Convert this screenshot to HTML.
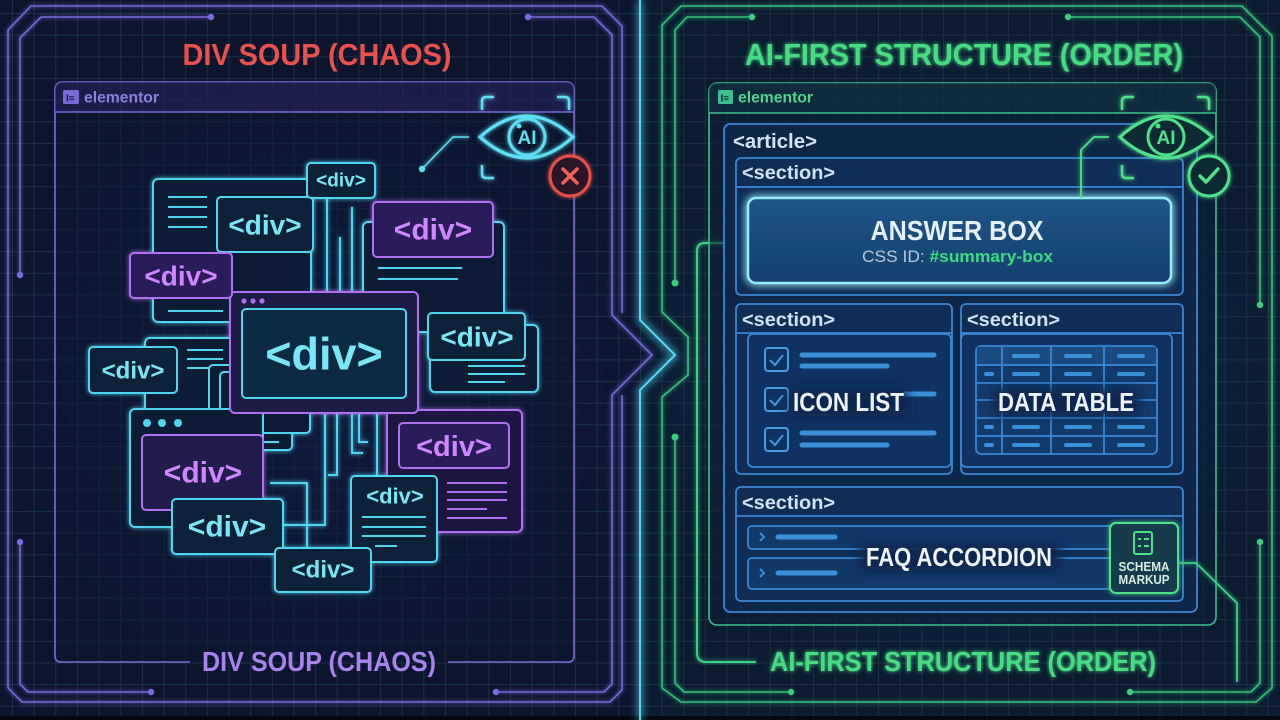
<!DOCTYPE html>
<html><head><meta charset="utf-8"><style>
html,body{margin:0;padding:0;background:#0a1424;}
svg{display:block;}
text{font-family:"Liberation Sans","DejaVu Sans",sans-serif;}
.c{font-family:"Liberation Sans Narrow","Liberation Sans",sans-serif;font-weight:bold;}
</style></head><body>
<svg width="1280" height="720" viewBox="0 0 1280 720" xmlns="http://www.w3.org/2000/svg">
<defs>
<pattern id="grid" x="12" y="13" width="21.65" height="21.65" patternUnits="userSpaceOnUse">
<path d="M0 0.5H21.65M0.5 0V21.65" stroke="#1b3044" stroke-width="1" fill="none"/>
</pattern>
<radialGradient id="lg" cx="0.5" cy="0.5" r="0.5"><stop offset="0" stop-color="#1a2a5a" stop-opacity="0.55"/><stop offset="1" stop-color="#1a2a5a" stop-opacity="0"/></radialGradient>
<radialGradient id="rg" cx="0.5" cy="0.5" r="0.5"><stop offset="0" stop-color="#12406a" stop-opacity="0.55"/><stop offset="1" stop-color="#12406a" stop-opacity="0"/></radialGradient>
<linearGradient id="ab" x1="0" y1="0" x2="0" y2="1"><stop offset="0" stop-color="#1d5688"/><stop offset="1" stop-color="#163f6c"/></linearGradient>
<filter id="g" x="-30%" y="-30%" width="160%" height="160%"><feGaussianBlur stdDeviation="2.2" result="b"/><feMerge><feMergeNode in="b"/><feMergeNode in="SourceGraphic"/></feMerge></filter>
<filter id="g2" x="-30%" y="-30%" width="160%" height="160%"><feGaussianBlur stdDeviation="4" result="b"/><feMerge><feMergeNode in="b"/><feMergeNode in="b"/><feMergeNode in="SourceGraphic"/></feMerge></filter>
<filter id="halo" x="-20%" y="-50%" width="140%" height="200%"><feGaussianBlur stdDeviation="5"/></filter>
</defs>

<!-- background -->
<rect width="1280" height="720" fill="#0b1628"/>
<rect x="0" y="0" width="640" height="720" fill="#0d1530" opacity="0.6"/>
<rect x="640" y="0" width="640" height="720" fill="#0b2036" opacity="0.6"/>
<ellipse cx="320" cy="380" rx="330" ry="300" fill="url(#lg)"/>
<ellipse cx="960" cy="360" rx="340" ry="330" fill="url(#rg)"/>
<rect width="1280" height="720" fill="url(#grid)"/>
<rect x="0" y="716" width="1280" height="4" fill="#05080f"/>

<!-- LEFT FRAME -->
<g fill="none" stroke="#7668d8" stroke-width="1.6" filter="url(#g)">
<path d="M8,688 L8,30 L31,6 L602,6 L622,26 L622,313"/>
<path d="M622,395 L622,690 L610,702 L22,702 L8,688"/>
<path d="M211,17 L41,17 L20,38 L20,275"/>
<path d="M20,542 L20,684 L28,692 L151,692"/>
<path d="M528,17 L594,17 L612,35 L612,315 L652,355 L612,395 L612,684 L604,692 L496,692"/>
</g>
<g fill="#7a6ce0"><circle cx="211" cy="17" r="3.2"/><circle cx="20" cy="275" r="3.2"/><circle cx="20" cy="542" r="3.2"/><circle cx="151" cy="692" r="3.2"/><circle cx="528" cy="17" r="3.2"/><circle cx="496" cy="692" r="3.2"/></g>

<!-- center cyan -->
<path d="M640,0 L640,320 L675,355 L640,390 L640,720" fill="none" stroke="#55d8f0" stroke-width="2" filter="url(#g2)"/>

<!-- RIGHT FRAME -->
<g fill="none" stroke="#34c07a" stroke-width="1.6" filter="url(#g)">
<path d="M662,688 L662,397 L688,375 L688,337 L662,312 L662,25 L681,6 L1242,6 L1272,36 L1272,688 L1256,702 L681,702 L662,688"/>
<path d="M752,17 L687,17 L675,30 L675,283"/>
<path d="M675,437 L675,683 L684,692 L791,692"/>
<path d="M1068,17 L1240,17 L1260,37 L1260,305"/>
<path d="M1260,542 L1260,683 L1251,692 L1130,692"/>
</g>
<g fill="#3ccf82"><circle cx="752" cy="17" r="3.2"/><circle cx="675" cy="283" r="3.5"/><circle cx="675" cy="437" r="3.5"/><circle cx="791" cy="692" r="3.2"/><circle cx="1068" cy="17" r="3.2"/><circle cx="1260" cy="305" r="3.2"/><circle cx="1260" cy="542" r="3.2"/><circle cx="1130" cy="692" r="3.2"/></g>

<!-- TITLES -->
<text class="c" x="317" y="65" font-size="31" fill="#e9524c" text-anchor="middle" textLength="269" lengthAdjust="spacingAndGlyphs">DIV SOUP (CHAOS)</text>
<text class="c" x="964" y="65" font-size="31" fill="#47dc82" text-anchor="middle" textLength="438" lengthAdjust="spacingAndGlyphs" filter="url(#g)">AI-FIRST STRUCTURE (ORDER)</text>

<!-- LEFT WINDOW -->
<path d="M190,662 L61,662 Q55,662 55,656 L55,90 Q55,82 63,82 L566,82 Q574,82 574,90 L574,656 Q574,662 568,662 L448,662" fill="#0c1630" fill-opacity="0.45" stroke="#7a6ad8" stroke-width="1.6"/>
<path d="M55,112 L55,90 Q55,82 63,82 L566,82 Q574,82 574,90 L574,112 Z" fill="#2a2560" fill-opacity="0.55"/>
<line x1="55" y1="112" x2="574" y2="112" stroke="#7a6ad8" stroke-width="1.6"/>
<rect x="63" y="90" width="16" height="14" rx="1.5" fill="#7a6ad8"/>
<text x="66" y="101.5" font-size="10" font-weight="bold" fill="#1c1a44">I≡</text>
<text x="84" y="102.5" font-size="15.5" font-weight="bold" fill="#8d80dc" textLength="75" lengthAdjust="spacingAndGlyphs">elementor</text>
<text class="c" x="319" y="671" font-size="28" fill="#a883ec" text-anchor="middle" textLength="234" lengthAdjust="spacingAndGlyphs">DIV SOUP (CHAOS)</text>

<!-- LEFT EYE -->
<g fill="none" stroke="#5fe0f2" stroke-width="2.5" filter="url(#g)">
<path d="M482,110 L482,101 Q482,97 486,97 L494,97"/>
<path d="M557,97 L565,97 Q569,97 569,101 L569,110"/>
<path d="M482,165 L482,174 Q482,178 486,178 L494,178"/>
<path d="M480,137 Q527,95 573,137 Q527,179 480,137 Z" stroke-width="3.2"/>
<circle cx="527" cy="137" r="18" stroke-width="3"/>
<path d="M469,137 L453,137 L422,169" stroke-width="1.6"/>
</g>
<circle cx="422" cy="169" r="3.2" fill="#5fe0f2"/>
<circle cx="519" cy="126" r="2.5" fill="#5fe0f2"/>
<text x="527" y="144" font-size="19" font-weight="bold" fill="#5fe0f2" text-anchor="middle">AI</text>
<g filter="url(#g)">
<circle cx="570" cy="176" r="20" fill="#2a1426" stroke="#e8504a" stroke-width="3"/>
<path d="M563,169 L577,183 M577,169 L563,183" stroke="#f0605a" stroke-width="3.5" stroke-linecap="round"/>
</g>

<!-- LEFT CLUSTER -->
<g filter="url(#g)" stroke-width="2">
<!-- connector lines back -->
<g fill="none" stroke="#4fd6ef">
<line x1="327" y1="198" x2="327" y2="292"/>
<line x1="340" y1="237" x2="340" y2="292"/>
<line x1="352" y1="207" x2="352" y2="292"/>
<line x1="278" y1="252" x2="278" y2="292"/>
<path d="M325,413 L325,525 L283,525"/>
<path d="M270,483 L307,483 L307,548"/>
<path d="M337,413 L337,475 L328,475"/>
<path d="M352,413 L352,453 L363,453"/>
<path d="M359,413 L359,442 L368,442"/>
<line x1="377" y1="413" x2="377" y2="476"/>
<line x1="457" y1="287" x2="457" y2="313"/>
</g>
<!-- panel A -->
<rect x="153" y="179" width="158" height="143" rx="5" fill="#0d1f36" stroke="#4fd6ef"/>
<g stroke="#4fd6ef"><line x1="168" y1="197" x2="207" y2="197"/><line x1="168" y1="207" x2="207" y2="207"/><line x1="168" y1="217" x2="207" y2="217"/><line x1="168" y1="227" x2="207" y2="227"/><line x1="168" y1="311" x2="223" y2="311"/></g>
<!-- panel B -->
<rect x="363" y="222" width="141" height="110" rx="5" fill="#0d1f36" stroke="#4fd6ef"/>
<g stroke="#4fd6ef"><line x1="378" y1="268" x2="462" y2="268"/><line x1="378" y1="279" x2="458" y2="279"/></g>
<!-- panel behind box6 -->
<rect x="430" y="325" width="108" height="67" rx="5" fill="#0d1f36" stroke="#4fd6ef"/>
<g stroke="#4fd6ef"><line x1="468" y1="366" x2="525" y2="366"/><line x1="468" y1="374" x2="525" y2="374"/><line x1="468" y1="382" x2="505" y2="382"/></g>
<!-- panel behind box9 -->
<rect x="145" y="338" width="95" height="80" rx="5" fill="#0d1f36" stroke="#4fd6ef"/>
<g stroke="#4fd6ef"><line x1="187" y1="350" x2="223" y2="350"/><line x1="187" y1="359" x2="223" y2="359"/><line x1="187" y1="368" x2="210" y2="368"/></g>
<!-- panels 13 -->
<rect x="209" y="365" width="83" height="85" rx="4" fill="#0d1f36" stroke="#4fd6ef"/>
<line x1="220" y1="442" x2="279" y2="442" stroke="#4fd6ef"/>
<rect x="220" y="372" width="90" height="61" rx="4" fill="#0d1f36" stroke="#4fd6ef"/>
<!-- panel 11 -->
<rect x="130" y="409" width="133" height="118" rx="5" fill="#0d1f36" stroke="#4fd6ef"/>
<g fill="#4fd6ef" stroke="none"><circle cx="147" cy="423" r="4"/><circle cx="162" cy="423" r="4"/><circle cx="178" cy="423" r="4"/></g>
<rect x="142" y="435" width="121" height="75" rx="4" fill="#231a4c" stroke="#b070f0"/>
<!-- panel 16 -->
<rect x="387" y="410" width="135" height="122" rx="5" fill="#1b1740" stroke="#b070f0"/>
<rect x="399" y="423" width="110" height="45" rx="4" fill="#2a1d58" stroke="#b070f0"/>
<g stroke="#b070f0"><line x1="447" y1="483" x2="507" y2="483"/><line x1="447" y1="492" x2="507" y2="492"/><line x1="447" y1="500" x2="507" y2="500"/><line x1="447" y1="509" x2="487" y2="509"/><line x1="447" y1="518" x2="507" y2="518"/></g>
<!-- box 15 -->
<rect x="351" y="476" width="86" height="86" rx="4" fill="#0d2238" stroke="#4fd6ef"/>
<g stroke="#4fd6ef"><line x1="362" y1="517" x2="426" y2="517"/><line x1="362" y1="527" x2="426" y2="527"/><line x1="362" y1="536" x2="426" y2="536"/><line x1="375" y1="546" x2="397" y2="546"/></g>
<!-- box 12 -->
<rect x="172" y="499" width="111" height="55" rx="4" fill="#0e2438" stroke="#4fd6ef"/>
<!-- box 14 -->
<rect x="275" y="548" width="96" height="44" rx="4" fill="#0e2438" stroke="#4fd6ef"/>
<!-- main -->
<rect x="230" y="292" width="188" height="121" rx="5" fill="#1a1a44" stroke="#b070f0"/>
<g fill="#b070f0" stroke="none"><circle cx="244" cy="301" r="2.6"/><circle cx="253" cy="301" r="2.6"/><circle cx="262" cy="301" r="2.6"/></g>
<rect x="242" y="309" width="164" height="89" rx="4" fill="#0f2a44" stroke="#4fd6ef"/>
<!-- box 3 -->
<rect x="217" y="197" width="96" height="55" rx="4" fill="#0e2438" stroke="#4fd6ef"/>
<!-- box 2 -->
<rect x="307" y="163" width="68" height="35" rx="4" fill="#0e2438" stroke="#4fd6ef"/>
<!-- box 4 -->
<rect x="373" y="202" width="120" height="55" rx="4" fill="#2a1d58" stroke="#b070f0"/>
<!-- box 7 -->
<rect x="130" y="253" width="102" height="45" rx="4" fill="#2a1d58" stroke="#b070f0"/>
<!-- box 6 -->
<rect x="428" y="313" width="97" height="47" rx="4" fill="#0e2438" stroke="#4fd6ef"/>
<!-- box 9 -->
<rect x="89" y="347" width="88" height="46" rx="4" fill="#0e2438" stroke="#4fd6ef"/>
</g>
<g font-weight="bold" text-anchor="middle" dominant-baseline="central">
<text x="341" y="181" font-size="19" fill="#7ae6f5">&lt;div&gt;</text>
<text x="265" y="225" font-size="28" fill="#7ae6f5">&lt;div&gt;</text>
<text x="433" y="230" font-size="30" fill="#cf86ff">&lt;div&gt;</text>
<text x="181" y="276" font-size="28" fill="#cf86ff">&lt;div&gt;</text>
<text x="324" y="354" font-size="45" fill="#7ae6f5">&lt;div&gt;</text>
<text x="477" y="337" font-size="28" fill="#7ae6f5">&lt;div&gt;</text>
<text x="133" y="371" font-size="24" fill="#7ae6f5">&lt;div&gt;</text>
<text x="203" y="473" font-size="30" fill="#cf86ff">&lt;div&gt;</text>
<text x="227" y="527" font-size="30" fill="#7ae6f5">&lt;div&gt;</text>
<text x="323" y="570" font-size="24" fill="#7ae6f5">&lt;div&gt;</text>
<text x="395" y="496" font-size="22" fill="#7ae6f5">&lt;div&gt;</text>
<text x="454" y="447" font-size="29" fill="#cf86ff">&lt;div&gt;</text>
</g>

<!-- RIGHT WINDOW -->
<path d="M697,653 L697,251 Q697,243 705,243 L736,243" fill="none" stroke="#3ccf82" stroke-width="2" filter="url(#g)"/>
<path d="M697,653 Q697,662 706,662 L756,662" fill="none" stroke="#3ccf82" stroke-width="2" filter="url(#g)"/>
<line x1="1171" y1="662" x2="1280" y2="662" stroke="#3ccf82" stroke-width="2" filter="url(#g)"/>
<rect x="709" y="83" width="507" height="542" rx="8" fill="#0c2036" fill-opacity="0.6" stroke="#3bbf8e" stroke-width="1.6"/>
<path d="M709,113 L709,91 Q709,83 717,83 L1208,83 Q1216,83 1216,91 L1216,113 Z" fill="#123042" fill-opacity="0.7"/>
<line x1="709" y1="113" x2="1216" y2="113" stroke="#3bbf8e" stroke-width="1.6"/>
<rect x="718" y="90" width="15" height="14" rx="1.5" fill="#3bbf8e"/>
<text x="720.5" y="101.5" font-size="10" font-weight="bold" fill="#0d2a30">I≡</text>
<text x="738" y="102.5" font-size="15.5" font-weight="bold" fill="#4fd48c" textLength="75" lengthAdjust="spacingAndGlyphs">elementor</text>

<!-- article -->
<rect x="724" y="124" width="473" height="488" rx="6" fill="#0e2746" stroke="#3a86d4" stroke-width="1.8"/>
<text x="733" y="148" font-size="20" font-weight="bold" fill="#cfe3f5" textLength="84" lengthAdjust="spacingAndGlyphs">&lt;article&gt;</text>
<!-- section 1 -->
<rect x="736" y="158" width="447" height="137" rx="5" fill="#102e55" stroke="#3a86d4" stroke-width="1.8"/>
<line x1="736" y1="187" x2="1183" y2="187" stroke="#3a86d4" stroke-width="1.8"/>
<text x="742" y="179" font-size="19" font-weight="bold" fill="#cfe3f5" textLength="93" lengthAdjust="spacingAndGlyphs">&lt;section&gt;</text>
<rect x="748" y="198" width="423" height="85" rx="8" fill="url(#ab)" stroke="#98ecff" stroke-width="2.5" filter="url(#g2)"/>
<text class="c" x="957" y="240" font-size="28" fill="#e4f2ff" text-anchor="middle" textLength="173" lengthAdjust="spacingAndGlyphs">ANSWER BOX</text>
<text x="862" y="262" font-size="17" fill="#b8c8d8" textLength="191" lengthAdjust="spacingAndGlyphs">CSS ID: <tspan fill="#3fd884" font-weight="bold">#summary-box</tspan></text>

<!-- section 2 -->
<rect x="736" y="304" width="216" height="170" rx="5" fill="#102e55" stroke="#3a86d4" stroke-width="1.8"/>
<line x1="736" y1="333" x2="952" y2="333" stroke="#3a86d4" stroke-width="1.8"/>
<text x="742" y="326" font-size="19" font-weight="bold" fill="#cfe3f5" textLength="93" lengthAdjust="spacingAndGlyphs">&lt;section&gt;</text>
<rect x="748" y="334" width="203" height="133" rx="5" fill="#103260" stroke="#3a86d4" stroke-width="1.8"/>
<g fill="none" stroke="#4a9ae0" stroke-width="2">
<rect x="765" y="348" width="23" height="23" rx="3"/>
<rect x="765" y="388" width="23" height="23" rx="3"/>
<rect x="765" y="428" width="23" height="23" rx="3"/>
<path d="M770,360 L775,365 L783,355 M770,400 L775,405 L783,395 M770,440 L775,445 L783,435"/>
</g>
<g stroke="#3a8fd8" stroke-width="5" stroke-linecap="round">
<line x1="802" y1="355" x2="934" y2="355"/><line x1="802" y1="366" x2="887" y2="366"/>
<line x1="905" y1="394" x2="934" y2="394"/>
<line x1="802" y1="433" x2="934" y2="433"/><line x1="802" y1="445" x2="887" y2="445"/>
</g>
<rect x="790" y="390" width="118" height="26" fill="#0c2850" filter="url(#halo)"/>
<text class="c" x="793" y="411" font-size="26" fill="#eef4fb" textLength="111" lengthAdjust="spacingAndGlyphs">ICON LIST</text>

<!-- section 3 -->
<rect x="961" y="304" width="222" height="170" rx="5" fill="#102e55" stroke="#3a86d4" stroke-width="1.8"/>
<line x1="961" y1="333" x2="1183" y2="333" stroke="#3a86d4" stroke-width="1.8"/>
<text x="967" y="326" font-size="19" font-weight="bold" fill="#cfe3f5" textLength="93" lengthAdjust="spacingAndGlyphs">&lt;section&gt;</text>
<rect x="961" y="334" width="211" height="133" rx="5" fill="#103260" stroke="#3a86d4" stroke-width="1.8"/>
<rect x="976" y="346" width="181" height="108" rx="5" fill="#133a6a" stroke="#3a86d4" stroke-width="1.8"/>
<rect x="977" y="347" width="179" height="18" fill="#1a4a80"/>
<g stroke="#3a86d4" stroke-width="1.8">
<line x1="1002" y1="346" x2="1002" y2="454"/><line x1="1051" y1="346" x2="1051" y2="454"/><line x1="1104" y1="346" x2="1104" y2="454"/>
<line x1="976" y1="365" x2="1157" y2="365"/><line x1="976" y1="383" x2="1157" y2="383"/><line x1="976" y1="400" x2="1157" y2="400"/><line x1="976" y1="418" x2="1157" y2="418"/><line x1="976" y1="436" x2="1157" y2="436"/>
</g>
<g stroke="#3a8fd8" stroke-width="4" stroke-linecap="round">
<line x1="1014" y1="356" x2="1038" y2="356"/><line x1="1066" y1="356" x2="1090" y2="356"/><line x1="1119" y1="356" x2="1143" y2="356"/>
<line x1="986" y1="374" x2="992" y2="374"/><line x1="1014" y1="374" x2="1038" y2="374"/><line x1="1066" y1="374" x2="1090" y2="374"/><line x1="1119" y1="374" x2="1143" y2="374"/>
<line x1="986" y1="427" x2="992" y2="427"/><line x1="1014" y1="427" x2="1038" y2="427"/><line x1="1066" y1="427" x2="1090" y2="427"/><line x1="1119" y1="427" x2="1143" y2="427"/>
<line x1="986" y1="445" x2="992" y2="445"/><line x1="1014" y1="445" x2="1038" y2="445"/><line x1="1066" y1="445" x2="1090" y2="445"/><line x1="1119" y1="445" x2="1143" y2="445"/>
</g>
<rect x="992" y="389" width="148" height="26" fill="#0c2850" filter="url(#halo)"/>
<text class="c" x="998" y="411" font-size="26" fill="#eef4fb" textLength="136" lengthAdjust="spacingAndGlyphs">DATA TABLE</text>

<!-- section 4 -->
<rect x="736" y="487" width="447" height="114" rx="5" fill="#102e55" stroke="#3a86d4" stroke-width="1.8"/>
<line x1="736" y1="516" x2="1183" y2="516" stroke="#3a86d4" stroke-width="1.8"/>
<text x="742" y="509" font-size="19" font-weight="bold" fill="#cfe3f5" textLength="93" lengthAdjust="spacingAndGlyphs">&lt;section&gt;</text>
<rect x="748" y="526" width="420" height="23" rx="4" fill="#123868" stroke="#3a86d4" stroke-width="1.8"/>
<rect x="748" y="558" width="420" height="31" rx="4" fill="#123868" stroke="#3a86d4" stroke-width="1.8"/>
<g fill="none" stroke="#3a8fd8" stroke-width="2"><path d="M760,533 L764,537 L760,541 M760,569 L764,573 L760,577"/></g>
<g stroke="#3a8fd8" stroke-width="5" stroke-linecap="round"><line x1="778" y1="537" x2="835" y2="537"/><line x1="778" y1="573" x2="835" y2="573"/></g>
<rect x="860" y="543" width="200" height="28" fill="#0c2850" filter="url(#halo)"/>
<text class="c" x="866" y="566" font-size="26" fill="#eef4fb" textLength="186" lengthAdjust="spacingAndGlyphs">FAQ ACCORDION</text>
<!-- schema -->
<g filter="url(#g)">
<rect x="1110" y="523" width="68" height="70" rx="6" fill="#123a4e" stroke="#4fe08a" stroke-width="2"/>
<path d="M1178,563 L1196,563 L1237,603 L1237,682" fill="none" stroke="#3ccf82" stroke-width="1.8"/>
<rect x="1134" y="532" width="18" height="22" rx="2" fill="none" stroke="#4fe08a" stroke-width="2"/>
<path d="M1138,539 h3 M1144,539 h5 M1138,546 h3 M1144,546 h5" stroke="#4fe08a" stroke-width="2"/>
</g>
<text x="1144" y="571" font-size="12.5" font-weight="bold" fill="#d6ece4" text-anchor="middle" textLength="51" lengthAdjust="spacingAndGlyphs">SCHEMA</text>
<text x="1144" y="584" font-size="12.5" font-weight="bold" fill="#d6ece4" text-anchor="middle" textLength="51" lengthAdjust="spacingAndGlyphs">MARKUP</text>

<!-- RIGHT EYE -->
<g fill="none" stroke="#4fe08a" stroke-width="2.5" filter="url(#g)">
<path d="M1122,110 L1122,101 Q1122,97 1126,97 L1134,97"/>
<path d="M1197,97 L1205,97 Q1209,97 1209,101 L1209,110"/>
<path d="M1122,165 L1122,174 Q1122,178 1126,178 L1134,178"/>
<path d="M1120,137 Q1166,95 1212,137 Q1166,179 1120,137 Z" fill="#0d2a36" stroke-width="3.2"/>
<circle cx="1166" cy="137" r="18" stroke-width="3"/>
<path d="M1109,137 L1094,137 L1081,150 L1081,198" stroke-width="1.8"/>
<circle cx="1209" cy="176" r="20" fill="#0f2a30" stroke-width="3"/>
<path d="M1200,176 L1206,182 L1218,169" stroke-width="3.5" stroke-linecap="round" stroke-linejoin="round"/>
</g>
<circle cx="1158" cy="126" r="2.5" fill="#4fe08a"/>
<text x="1166" y="144" font-size="19" font-weight="bold" fill="#4fe08a" text-anchor="middle">AI</text>

<text class="c" x="963" y="671" font-size="28" fill="#47dc82" text-anchor="middle" textLength="386" lengthAdjust="spacingAndGlyphs" filter="url(#g)">AI-FIRST STRUCTURE (ORDER)</text>
</svg>
</body></html>
